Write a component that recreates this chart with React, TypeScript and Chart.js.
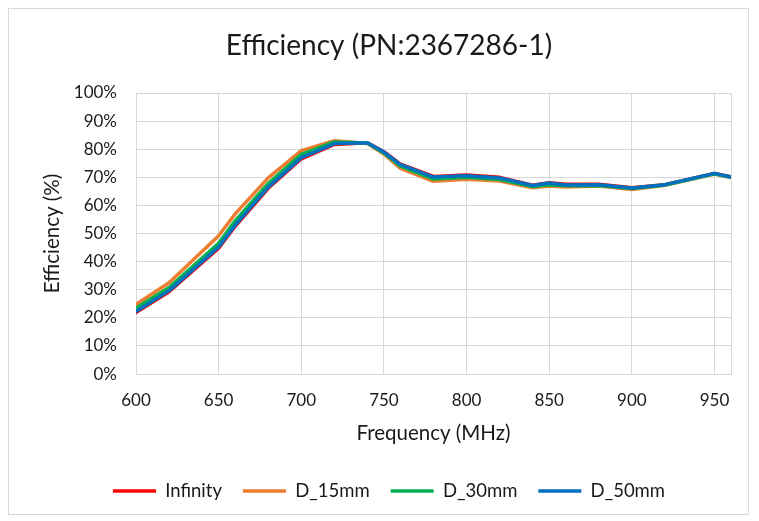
import { useEffect, useRef } from 'react';
import { Chart, registerables } from 'chart.js';

Chart.register(...registerables);

const frequencies = [600, 620, 650, 660, 680, 700, 720, 740, 750, 760, 780, 800, 820, 840, 850, 860, 880, 900, 920, 950, 960];
const infinity = [21.9, 29.3, 44.8, 52.6, 66.1, 76.6, 81.7, 82.3, 79.1, 74.7, 70.3, 70.8, 70.0, 67.2, 68.1, 67.5, 67.5, 66.3, 67.4, 71.4, 70.2];
const d15mm = [24.8, 32.5, 49.2, 57.0, 69.8, 79.5, 83.0, 82.0, 78.3, 73.2, 68.6, 69.3, 68.7, 66.3, 66.9, 66.6, 66.9, 65.7, 67.2, 71.2, 69.9];
const d30mm = [23.5, 30.8, 46.5, 54.5, 67.8, 78.2, 82.6, 82.2, 78.7, 74.0, 69.4, 70.0, 69.2, 66.7, 67.4, 67.0, 67.1, 66.0, 67.3, 71.3, 70.0];
const d50mm = [22.3, 29.7, 45.2, 53.0, 66.5, 77.0, 82.0, 82.3, 79.0, 74.5, 70.1, 70.6, 69.8, 67.1, 68.0, 67.3, 67.4, 66.2, 67.4, 71.4, 70.1];
const seriesNames = ['Infinity', 'D_15mm', 'D_30mm', 'D_50mm'];
const xTickValues = [600, 650, 700, 750, 800, 850, 900, 950];
const xMin = 600;
const xMax = 960;
const yMin = 0;
const yMax = 100;
const yStep = 10;

const FONT = 'Lato, "DejaVu Sans", sans-serif';
const TEXT = '#1a1a1a';
const GRID = '#d9d9d9';

export default function App() {
  const ref = useRef<HTMLCanvasElement>(null);

  useEffect(() => {
    if (!ref.current) return;
    const toPts = (arr: number[]) => frequencies.map((f, i) => ({ x: f, y: arr[i] }));
    const mk = (label: string, data: number[], color: string, order: number) => ({
      label,
      data: toPts(data),
      borderColor: color,
      backgroundColor: color,
      borderWidth: 3.5,
      pointRadius: 0,
      pointHoverRadius: 0,
      tension: 0,
      borderCapStyle: 'round' as const,
      borderJoinStyle: 'round' as const,
      order,
    });
    const chart = new Chart(ref.current, {
      type: 'line',
      data: {
        datasets: [
          mk(seriesNames[0], infinity, '#FF0000', 3),
          mk(seriesNames[1], d15mm, '#ED7D31', 2),
          mk(seriesNames[2], d30mm, '#00B050', 1),
          mk(seriesNames[3], d50mm, '#0070C0', 0),
        ],
      },
      options: {
        animation: false,
        responsive: false,
        maintainAspectRatio: false,
        layout: { padding: { left: 38, right: 17, top: 0, bottom: 3.65 } },
        plugins: {
          title: {
            display: true,
            text: 'Efficiency (PN:2367286-1)',
            font: { family: FONT, size: 28, weight: 'normal' },
            color: TEXT,
            padding: { top: 20.2, bottom: 30.2 },
          },
          legend: {
            position: 'bottom',
            labels: {
              usePointStyle: true,
              pointStyle: 'line',
              pointStyleWidth: 43,
              padding: 21,
              color: TEXT,
              font: { family: FONT, size: 18.5 },
              sort: (a: any, b: any) => a.datasetIndex - b.datasetIndex,
            },
          },
          tooltip: { enabled: false },
        },
        scales: {
          x: {
            type: 'linear',
            min: xMin,
            max: xMax,
            afterBuildTicks: (s: any) => {
              s.ticks = [...xTickValues, xMax].map((v) => ({ value: v }));
            },
            afterFit: (s: any) => {
              s.height = 86.75;
            },
            grid: { color: GRID, lineWidth: 1, drawTicks: false },
            border: { color: GRID },
            ticks: {
              autoSkip: false,
              maxRotation: 0,
              padding: 15.8,
              color: TEXT,
              font: { family: FONT, size: 17 },
              callback: (v: any) => (xTickValues.includes(Number(v)) ? String(v) : ''),
            },
            title: {
              display: true,
              text: 'Frequency (MHz)',
              color: TEXT,
              font: { family: FONT, size: 20.5 },
              padding: { top: 0, bottom: 15.4 },
            },
          },
          y: {
            min: yMin,
            max: yMax,
            afterFit: (s: any) => {
              s.width = 89;
            },
            grid: { color: GRID, lineWidth: 1, drawTicks: false },
            border: { color: GRID },
            ticks: {
              stepSize: yStep,
              padding: 19,
              color: TEXT,
              font: { family: FONT, size: 17 },
              callback: (v: any) => `${v}%`,
            },
            title: {
              display: true,
              text: 'Efficiency (%)',
              color: TEXT,
              font: { family: FONT, size: 20.5 },
              padding: { top: -7.3, bottom: 0 },
            },
          },
        },
      },
    });
    return () => chart.destroy();
  }, []);

  return (
    <div style={{ width: 739, height: 505, border: `1px solid ${GRID}` }}>
      <canvas ref={ref} width={739} height={505} style={{ display: 'block' }} />
    </div>
  );
}
